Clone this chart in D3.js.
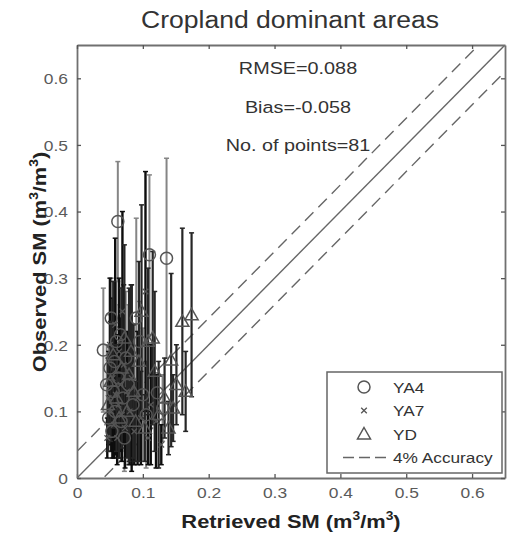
<!DOCTYPE html>
<html>
<head>
<meta charset="utf-8">
<script src="https://cdn.jsdelivr.net/npm/d3@7"></script>
<style>
  body { margin: 0; background: #fff; }
  text { font-family: "Liberation Sans", Arial, sans-serif; }
</style>
</head>
<body>
<svg id="canvas"></svg>
<script>
// station data: retrieved SM, observed SM, std of observed SM
const ya4X = [0.062,0.040,0.052,0.136,0.110,0.095,0.066,0.122,0.050,0.055,0.058,0.048,0.063,0.070,0.074,0.045,0.053,0.060,0.067,0.078,0.085,0.090,0.100,0.105,0.130,0.057,0.072];
const ya4Y = [0.385,0.192,0.240,0.330,0.335,0.205,0.215,0.128,0.165,0.130,0.100,0.090,0.150,0.120,0.180,0.140,0.070,0.205,0.085,0.140,0.110,0.240,0.125,0.095,0.105,0.175,0.060];
const ya4E = [0.090,0.093,0.060,0.150,0.120,0.060,0.070,0.030,0.080,0.090,0.070,0.050,0.110,0.080,0.100,0.060,0.040,0.090,0.060,0.120,0.090,0.150,0.100,0.080,0.050,0.120,0.050];

const ya7X = [0.048,0.050,0.052,0.054,0.056,0.058,0.059,0.061,0.063,0.064,0.066,0.068,0.069,0.071,0.073,0.076,0.080,0.083,0.087,0.092,0.097,0.104,0.108,0.112,0.120,0.128,0.046];
const ya7Y = [0.120,0.200,0.100,0.150,0.080,0.230,0.125,0.060,0.110,0.190,0.140,0.095,0.250,0.170,0.075,0.130,0.100,0.150,0.070,0.120,0.090,0.280,0.060,0.110,0.085,0.050,0.060];
const ya7E = [0.070,0.100,0.060,0.120,0.050,0.130,0.090,0.040,0.080,0.110,0.100,0.070,0.150,0.120,0.060,0.090,0.080,0.140,0.050,0.100,0.070,0.180,0.040,0.090,0.070,0.030,0.030];

const ydX = [0.174,0.160,0.115,0.108,0.151,0.143,0.082,0.047,0.051,0.055,0.060,0.064,0.068,0.072,0.076,0.079,0.086,0.089,0.094,0.098,0.103,0.118,0.124,0.133,0.139,0.146,0.165];
const ydY = [0.245,0.235,0.210,0.205,0.140,0.177,0.190,0.110,0.145,0.185,0.120,0.090,0.165,0.210,0.100,0.155,0.130,0.085,0.175,0.250,0.075,0.160,0.095,0.120,0.075,0.105,0.130];
const ydE = [0.123,0.140,0.130,0.110,0.060,0.130,0.100,0.070,0.090,0.110,0.080,0.060,0.120,0.140,0.070,0.130,0.100,0.060,0.150,0.160,0.050,0.120,0.080,0.060,0.040,0.050,0.060];

const ticks = [0, 0.1, 0.2, 0.3, 0.4, 0.5, 0.6];
const stats = ["RMSE=0.088", "Bias=-0.058", "No. of points=81"];
const legendNames = ["YA4", "YA7", "YD", "4% Accuracy"];
const accuracy = 0.04;

const width = 507;
const height = 538;
const padLeft = 77, padRight = 505, padTop = 45, padBottom = 478;

const canvas = d3.select('#canvas').attr('width', width).attr('height', height);

const xScale = d3.scaleLinear().domain([0, 0.65]).range([padLeft, padRight]);
const yScale = d3.scaleLinear().domain([0, 0.65]).range([padBottom, padTop]);

const toRows = (xs, ys, es) => xs.map((x, i) => ({x: x, y: ys[i], e: es[i]}));
const series = [
  {name: 'YA4', rows: toRows(ya4X, ya4Y, ya4E), bar: '#858585', w: 2, shape: 'circle'},
  {name: 'YA7', rows: toRows(ya7X, ya7Y, ya7E), bar: '#0d0d0d', w: 2.4, shape: 'cross'},
  {name: 'YD',  rows: toRows(ydX, ydY, ydE),  bar: '#262626', w: 2.2, shape: 'triangle'}
];

// text is a bit wide in the original, so stretch it horizontally
const addText = (g, x, y, size, sx, str) => g.append('text')
  .attr('transform', `translate(${x},${y}) scale(${sx},1)`)
  .style('font-size', size + 'px')
  .text(str);

// 1:1 line and +-4% lines
const lineGen = d3.line().x(d => xScale(d[0])).y(d => yScale(d[1]));
canvas.append('clipPath').attr('id', 'plotclip')
  .append('rect').attr('x', padLeft).attr('y', padTop)
  .attr('width', padRight - padLeft).attr('height', padBottom - padTop);

const plot = canvas.append('g').attr('clip-path', 'url(#plotclip)');

[0, accuracy, -accuracy].forEach(off => {
  plot.append('path')
    .attr('d', lineGen([[-0.1, -0.1 + off], [0.8, 0.8 + off]]))
    .attr('fill', 'none')
    .attr('stroke', '#666')
    .attr('stroke-width', 1.4)
    .attr('stroke-dasharray', off === 0 ? null : '12,7');
});

// error bars
series.forEach(s => {
  const g = plot.append('g');
  s.rows.forEach(r => {
    const x = xScale(r.x);
    const y0 = yScale(r.y - r.e), y1 = yScale(r.y + r.e);
    g.append('line').attr('x1', x).attr('x2', x).attr('y1', y0).attr('y2', y1)
      .attr('stroke', s.bar).attr('stroke-width', s.w);
    [y0, y1].forEach(yy => g.append('line')
      .attr('x1', x - 2.5).attr('x2', x + 2.5).attr('y1', yy).attr('y2', yy)
      .attr('stroke', s.bar).attr('stroke-width', 1.5));
  });
});

const drawMarker = (g, shape, x, y) => {
  if (shape === 'circle') {
    g.append('circle').attr('cx', x).attr('cy', y).attr('r', 6)
      .attr('fill', 'none').attr('stroke', '#555').attr('stroke-width', 1.5);
  } else if (shape === 'cross') {
    const s = 2.8;
    g.append('path').attr('d', `M${x - s},${y - s}L${x + s},${y + s}M${x - s},${y + s}L${x + s},${y - s}`)
      .attr('stroke', '#555').attr('stroke-width', 1.3);
  } else {
    const s = 6.5;
    g.append('path').attr('d', `M${x},${y - s}L${x + s},${y + s * 0.75}L${x - s},${y + s * 0.75}Z`)
      .attr('fill', 'none').attr('stroke', '#555').attr('stroke-width', 1.5);
  }
};

series.forEach(s => {
  const g = plot.append('g');
  s.rows.forEach(r => drawMarker(g, s.shape, xScale(r.x), yScale(r.y)));
});

// axes box with inward ticks on all sides
const axisColor = '#707070';
const tickLen = 4;
const fmt = d => d === 0 ? '0' : d3.format('.1f')(d);
const xAxisG = canvas.append('g').attr('transform', `translate(0,${padBottom})`)
  .call(d3.axisBottom(xScale).tickValues(ticks).tickSizeInner(-tickLen).tickSizeOuter(0).tickPadding(9).tickFormat(fmt));
const yAxisG = canvas.append('g').attr('transform', `translate(${padLeft},0)`)
  .call(d3.axisLeft(yScale).tickValues(ticks).tickSizeInner(-tickLen).tickSizeOuter(0).tickPadding(9).tickFormat(fmt));
canvas.append('g').attr('transform', `translate(0,${padTop})`)
  .call(d3.axisTop(xScale).tickValues(ticks).tickSizeInner(-tickLen).tickSizeOuter(0).tickFormat(''));
canvas.append('g').attr('transform', `translate(${padRight},0)`)
  .call(d3.axisRight(yScale).tickValues(ticks).tickSizeInner(-tickLen).tickSizeOuter(0).tickFormat(''));

canvas.selectAll('.domain').attr('stroke', axisColor).attr('stroke-width', 1.8);
canvas.selectAll('.tick line').attr('stroke', '#555').attr('stroke-width', 1.3);
canvas.selectAll('.tick text').attr('fill', '#5a5a5a').style('font-size', '14.5px')
  .style('font-family', '"Liberation Sans", Arial, sans-serif');
xAxisG.selectAll('.tick text').attr('y', 0).attr('dy', 0)
  .attr('transform', 'translate(0,20) scale(1.2,1)');
yAxisG.selectAll('.tick text').attr('x', 0).attr('dy', '0.36em')
  .attr('transform', 'translate(-9,0) scale(1.2,1)');

// title
addText(canvas, 290, 28, 23.5, 1.13, 'Cropland dominant areas')
  .attr('text-anchor', 'middle').attr('fill', '#333');

// stats text
stats.forEach((t, i) => {
  addText(canvas, 298, 74 + i * 38.5, 16.5, 1.2, t)
    .attr('text-anchor', 'middle').attr('fill', '#333');
});

// axis labels
const labelParts = (t, name) => {
  t.append('tspan').text(name + ' (m');
  t.append('tspan').attr('dy', -8).style('font-size', '12px').text('3');
  t.append('tspan').attr('dy', 8).text('/m');
  t.append('tspan').attr('dy', -8).style('font-size', '12px').text('3');
  t.append('tspan').attr('dy', 8).text(')');
};
const xl = canvas.append('text')
  .attr('transform', 'translate(291,528) scale(1.15,1)')
  .attr('text-anchor', 'middle').attr('fill', '#222')
  .style('font-size', '19px').style('font-weight', 'bold');
labelParts(xl, 'Retrieved SM');

const yl = canvas.append('text')
  .attr('transform', 'translate(46,262) rotate(-90) scale(1.15,1)')
  .attr('text-anchor', 'middle').attr('fill', '#222')
  .style('font-size', '19px').style('font-weight', 'bold');
labelParts(yl, 'Observed SM');

// legend
const lg = canvas.append('g');
lg.append('rect').attr('x', 327).attr('y', 372).attr('width', 175).attr('height', 101)
  .attr('fill', '#fff').attr('stroke', '#666').attr('stroke-width', 1.5);
const shapes = ['circle', 'cross', 'triangle'];
legendNames.forEach((n, i) => {
  const yy = 387 + i * 23.5;
  if (i < 3) {
    drawMarker(lg, shapes[i], 364, yy);
  } else {
    lg.append('line').attr('x1', 343).attr('x2', 390).attr('y1', yy).attr('y2', yy)
      .attr('stroke', '#666').attr('stroke-width', 1.4).attr('stroke-dasharray', '11,5');
  }
  addText(lg, 393, yy + 5.5, 15, 1.15, n).attr('fill', '#333');
});
</script>
</body>
</html>
